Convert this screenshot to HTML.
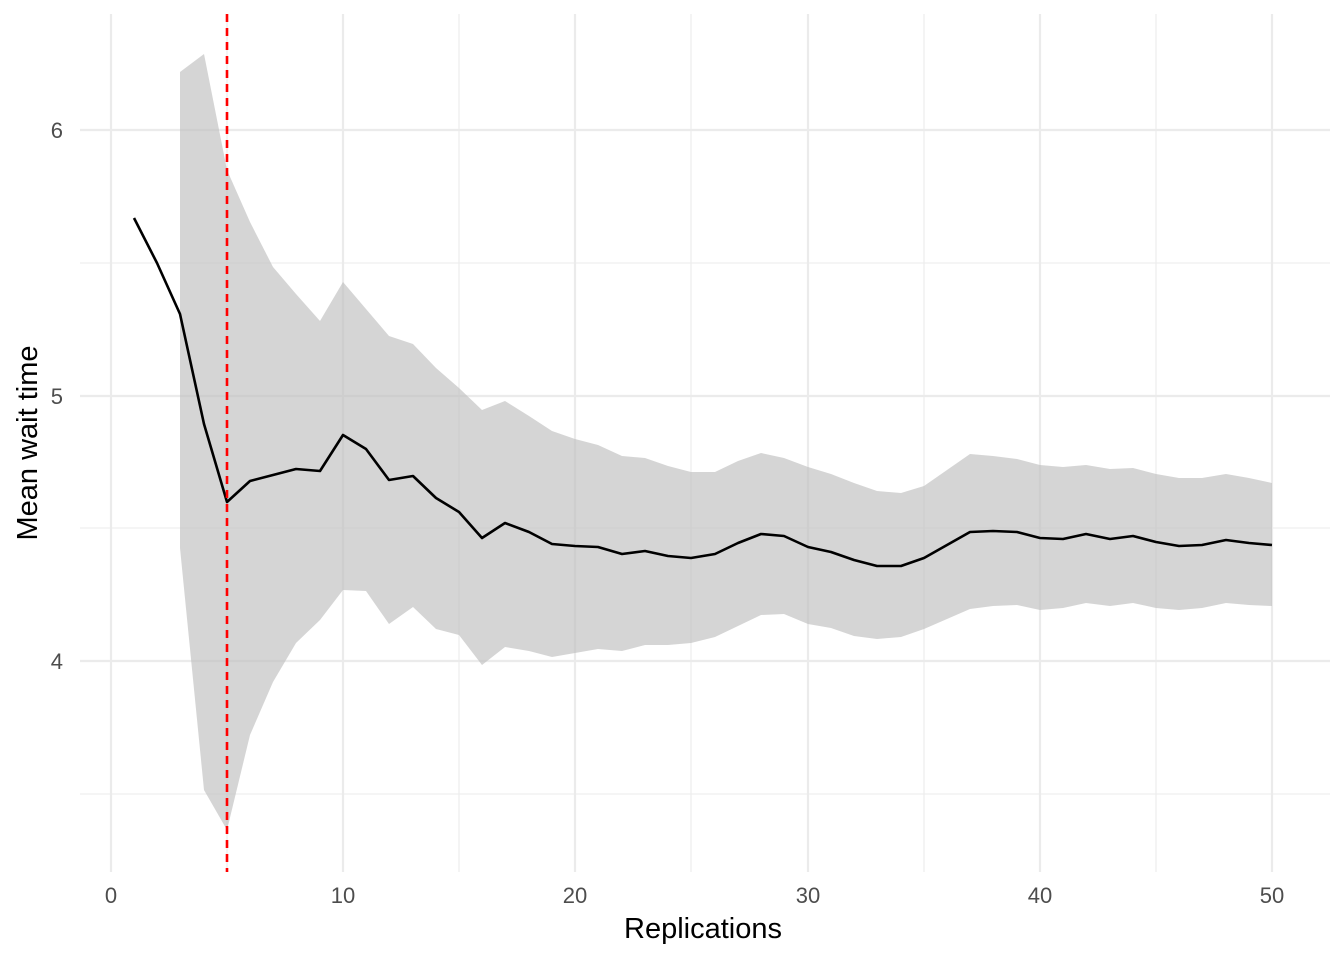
<!DOCTYPE html>
<html><head><meta charset="utf-8"><style>
html,body{margin:0;padding:0;background:#fff;}
svg{display:block;font-family:"Liberation Sans",sans-serif;}
</style></head><body>
<svg width="1344" height="960" viewBox="0 0 1344 960" xmlns="http://www.w3.org/2000/svg">
<rect width="1344" height="960" fill="#fff"/>
<g stroke="#ebebeb" stroke-width="1.1">
<line x1="80" x2="1330" y1="794" y2="794"/>
<line x1="80" x2="1330" y1="528" y2="528"/>
<line x1="80" x2="1330" y1="263" y2="263"/>
<line x1="227" x2="227" y1="14" y2="872"/>
<line x1="459" x2="459" y1="14" y2="872"/>
<line x1="691" x2="691" y1="14" y2="872"/>
<line x1="924" x2="924" y1="14" y2="872"/>
<line x1="1156" x2="1156" y1="14" y2="872"/>
</g>
<g stroke="#ebebeb" stroke-width="2.2">
<line x1="80" x2="1330" y1="661" y2="661"/>
<line x1="80" x2="1330" y1="396" y2="396"/>
<line x1="80" x2="1330" y1="130" y2="130"/>
<line x1="111" x2="111" y1="14" y2="872"/>
<line x1="343" x2="343" y1="14" y2="872"/>
<line x1="575" x2="575" y1="14" y2="872"/>
<line x1="808" x2="808" y1="14" y2="872"/>
<line x1="1040" x2="1040" y1="14" y2="872"/>
<line x1="1272" x2="1272" y1="14" y2="872"/>
</g>
<polygon fill="#bfbfbf" fill-opacity="0.65" points="180,72 204,54 227,170 250,222 273,267 296,294 320,321 343,282 366,309 389,336 413,344 436,368 459,388 482,410 505,401 529,416 552,431 575,439 598,445 622,456 645,458 668,466 691,472 715,472 738,461 761,453 784,458 808,467 831,474 854,483 877,491 901,493 924,486 947,470 970,454 993,456 1017,459 1040,465 1063,467 1086,465 1110,469 1133,468 1156,474 1179,478 1202,478 1226,474 1249,478 1272,483 1272,606 1249,605 1226,603 1202,608 1179,610 1156,608 1133,603 1110,606 1086,603 1063,608 1040,610 1017,605 993,606 970,609 947,619 924,629 901,637 877,639 854,636 831,628 808,624 784,614 761,615 738,626 715,637 691,643 668,645 645,645 622,651 598,649 575,653 552,657 529,651 505,647 482,665 459,635 436,629 413,607 389,624 366,591 343,590 320,620 296,643 273,682 250,735 227,830 204,790 180,548"/>
<polyline fill="none" stroke="#000" stroke-width="2.6" stroke-linejoin="round" points="134,218 157,263 180,314 204,424 227,502 250,481 273,475 296,469 320,471 343,435 366,449 389,480 413,476 436,498 459,512 482,538 505,523 529,532 552,544 575,546 598,547 622,554 645,551 668,556 691,558 715,554 738,543 761,534 784,536 808,547 831,552 854,560 877,566 901,566 924,558 947,545 970,532 993,531 1017,532 1040,538 1063,539 1086,534 1110,539 1133,536 1156,542 1179,546 1202,545 1226,540 1249,543 1272,545"/>
<line x1="227" x2="227" y1="14" y2="872" stroke="#ff0000" stroke-width="2.6" stroke-dasharray="8,6"/>
<g fill="#4d4d4d" font-size="22" text-anchor="end">
<text x="63" y="669">4</text>
<text x="63" y="404">5</text>
<text x="63" y="138">6</text>
</g>
<g fill="#4d4d4d" font-size="22" text-anchor="middle">
<text x="111" y="903">0</text>
<text x="343" y="903">10</text>
<text x="575" y="903">20</text>
<text x="808" y="903">30</text>
<text x="1040" y="903">40</text>
<text x="1272" y="903">50</text>
</g>
<text x="703" y="938" font-size="29" text-anchor="middle" fill="#000">Replications</text>
<text transform="translate(37,443) rotate(-90)" font-size="29" text-anchor="middle" fill="#000">Mean wait time</text>
</svg>
</body></html>
